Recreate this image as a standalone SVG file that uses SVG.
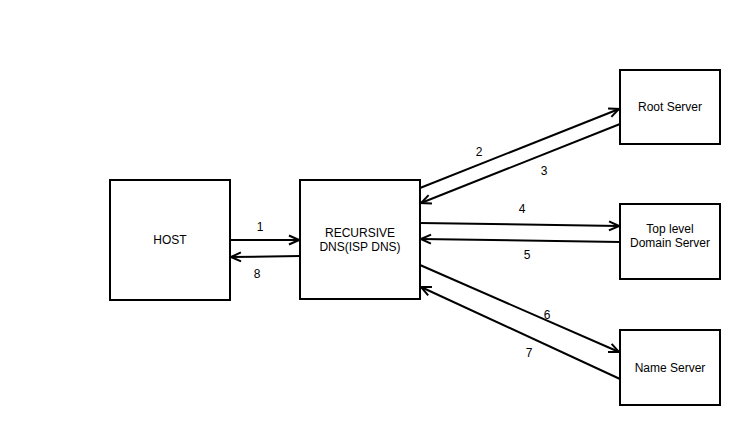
<svg xmlns="http://www.w3.org/2000/svg" width="746" height="425" viewBox="0 0 746 425">
<style>
.box{fill:#fff;stroke:#000;stroke-width:2}
.t{font-family:"Liberation Sans",Arial,sans-serif;font-size:12px;fill:#000;text-anchor:middle}
.c{stroke:#000;stroke-width:2;fill:none;marker-end:url(#a)}
</style>
<defs>
<marker id="a" markerUnits="userSpaceOnUse" viewBox="0 0 12 12" refX="11" refY="6" markerWidth="12" markerHeight="12" orient="auto">
<path d="M1,1.5 L11,6 L1,10.5" fill="none" stroke="#000" stroke-width="2"/>
</marker>
</defs>
<rect width="746" height="425" fill="#fff"/>
<g id="host"><rect class="box" x="110" y="180" width="120" height="120"/><text class="t" x="170" y="244">HOST</text></g>
<g id="recursive"><rect class="box" x="300" y="180" width="120" height="119"/><text class="t" x="360" y="237">RECURSIVE</text><text class="t" x="360" y="251">DNS(ISP DNS)</text></g>
<g id="root"><rect class="box" x="620" y="70" width="100" height="74"/><text class="t" x="670" y="111">Root Server</text></g>
<g id="tld"><rect class="box" x="620" y="204" width="100" height="75"/><text class="t" x="670" y="233">Top level</text><text class="t" x="670" y="247">Domain Server</text></g>
<g id="ns"><rect class="box" x="620" y="330" width="100" height="75"/><text class="t" x="670" y="372">Name Server</text></g>
<g id="connectors">
<line class="c" x1="230" y1="240" x2="299" y2="240"/>
<line class="c" x1="300" y1="256" x2="231" y2="257"/>
<line class="c" x1="420" y1="188" x2="619" y2="109"/>
<line class="c" x1="620" y1="124" x2="421" y2="203"/>
<line class="c" x1="420" y1="223" x2="619" y2="226"/>
<line class="c" x1="620" y1="242" x2="421" y2="239"/>
<line class="c" x1="420" y1="265" x2="619" y2="352"/>
<line class="c" x1="620" y1="379" x2="421" y2="287"/>
<text class="t" x="260" y="231">1</text>
<text class="t" x="257" y="278">8</text>
<text class="t" x="479" y="156">2</text>
<text class="t" x="544" y="175">3</text>
<text class="t" x="522" y="213">4</text>
<text class="t" x="527" y="259">5</text>
<text class="t" x="547" y="319">6</text>
<text class="t" x="529" y="357">7</text>
</g>
</svg>
